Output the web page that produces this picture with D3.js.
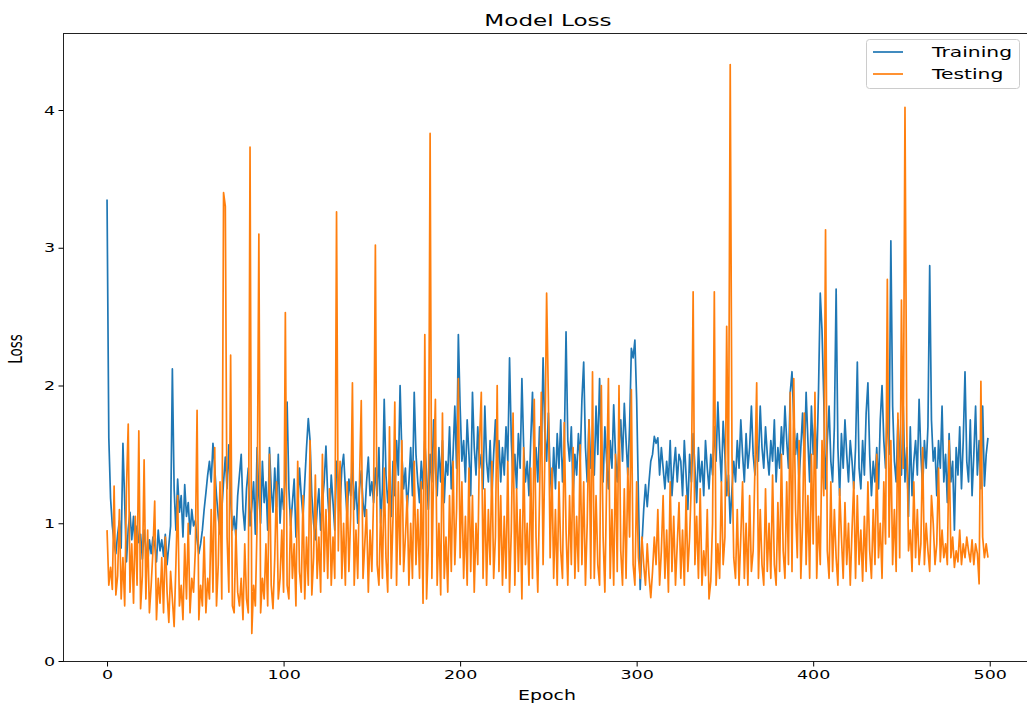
<!DOCTYPE html>
<html>
<head>
<meta charset="utf-8">
<script src="https://cdn.jsdelivr.net/npm/d3@7"></script>
<style>
  body { margin: 0; background: #fff; }
  svg { display: block; font-family: "DejaVu Sans", sans-serif; }
</style>
</head>
<body>
<script>
// valores (una entrada por época)
const training = [
  3.35,1.62,1.18,0.98,0.86,0.78,0.92,1.02,0.82,1.58,1.15,0.72,0.96,1.08,0.88,1.05,0.8,0.98,0.86,0.92,0.74,0.95,0.82,0.7,0.88,
  0.78,0.9,0.85,0.72,0.95,0.8,0.88,0.76,0.92,0.7,0.84,0.98,2.12,1.25,0.95,1.32,1.08,1.2,0.9,1.28,1.05,1.15,0.92,1.1,0.98,
  1.02,0.88,0.78,0.85,0.95,1.1,1.22,1.35,1.45,1.3,1.58,1.4,1.2,1.05,0.92,1.1,1.3,1.48,1.25,1.57,1.18,0.95,1.05,0.9,1.2,
  1.35,1.5,1.1,0.95,1.25,1.4,0.98,1.12,1.3,0.92,1.55,1.2,1.0,1.45,1.15,1.3,0.95,1.55,1.25,1.08,1.4,1.12,1.5,1.0,1.25,
  1.1,1.35,1.88,1.25,0.98,1.15,1.32,0.9,1.1,1.4,1.2,1.05,1.3,1.55,1.76,1.6,1.2,1.0,0.88,1.1,1.25,0.95,1.15,1.3,1.56,
  1.2,1.0,1.35,1.15,0.95,1.45,1.3,1.12,1.4,1.5,1.25,1.05,1.32,1.2,1.45,1.1,1.3,1.0,1.25,1.38,1.15,1.05,1.3,1.48,1.2,
  1.3,1.15,1.4,1.2,1.55,1.0,1.25,1.9,1.35,1.15,1.3,1.05,1.45,1.2,1.6,1.35,2.0,1.5,1.25,1.4,1.1,1.3,1.55,1.2,1.95,
  1.5,1.3,1.15,1.45,1.25,1.6,1.35,1.1,1.5,1.3,1.75,1.4,1.2,1.55,1.3,1.6,1.15,1.45,1.35,1.7,1.25,1.5,1.85,1.4,2.37,
  1.85,1.45,1.6,1.3,1.75,1.5,1.2,1.95,1.55,1.35,1.7,1.4,1.5,1.25,1.85,1.45,1.3,1.6,1.2,1.5,1.75,1.4,1.6,1.3,1.55,
  1.35,1.7,1.45,2.2,1.6,1.3,1.5,1.25,1.65,1.4,2.05,1.55,1.3,1.45,1.2,1.6,1.95,1.4,1.55,1.3,1.7,1.5,2.2,1.65,1.45,
  1.8,1.35,1.2,1.55,1.25,1.65,1.4,1.75,1.3,1.55,2.39,1.6,1.45,1.7,1.2,1.5,1.35,1.65,1.45,1.9,2.17,1.55,1.3,1.75,1.4,
  1.6,1.35,1.85,1.5,2.05,1.55,1.3,1.7,1.45,1.25,1.6,1.4,1.86,1.5,1.3,1.55,1.75,1.45,1.87,1.6,1.35,1.7,2.27,2.2,2.33,
  1.9,1.2,0.52,0.85,1.1,1.28,1.12,1.3,1.45,1.5,1.63,1.58,1.62,1.35,1.55,1.4,1.25,1.45,1.3,1.6,1.2,1.4,1.55,1.3,1.5,
  1.45,1.2,1.6,1.35,1.1,1.5,1.3,1.65,1.4,1.15,1.55,1.3,1.45,1.2,1.6,1.4,1.25,1.5,1.35,1.7,1.45,1.88,1.55,1.3,1.74,
  1.5,1.2,1.35,1.0,1.25,1.45,1.3,1.6,1.4,1.75,1.5,1.3,1.65,1.4,1.55,1.85,1.5,1.35,1.6,1.45,1.85,1.55,1.4,1.7,1.5,
  1.35,1.6,1.45,1.75,1.3,1.55,1.4,1.7,1.5,1.85,1.6,1.4,1.95,2.1,1.75,1.5,1.65,1.3,1.55,1.8,1.45,1.95,1.6,1.3,1.85,
  1.5,1.75,1.4,1.95,2.67,2.4,1.9,1.25,1.6,1.85,1.45,1.3,1.7,2.7,1.55,1.2,1.65,1.4,1.75,1.5,1.3,1.6,1.45,1.25,1.55,
  2.17,1.4,1.25,1.6,1.35,1.8,2.02,1.5,1.2,1.45,1.3,1.55,1.25,1.75,2.0,1.6,1.4,1.85,1.5,3.05,1.85,1.45,1.3,1.75,1.5,
  1.35,1.85,1.3,1.55,1.05,1.7,1.2,1.45,1.6,1.35,1.9,1.5,1.25,1.6,1.4,1.7,2.87,1.75,1.45,1.55,1.2,1.6,1.4,1.85,1.3,
  1.5,1.15,1.65,1.3,1.45,0.95,1.55,1.35,1.7,1.25,1.6,2.1,1.45,1.3,1.75,1.2,1.5,1.85,1.35,1.6,1.25,1.85,1.27,1.5,1.62
];

const testing = [
  0.95,0.55,0.68,0.52,1.27,0.48,0.62,1.1,0.45,0.75,0.4,1.25,1.72,0.5,0.85,0.42,1.05,0.55,1.67,0.38,0.62,1.46,0.45,0.95,0.35,
  0.55,0.8,1.16,0.3,0.6,0.42,0.75,0.35,0.9,0.5,0.28,0.65,0.45,0.25,0.7,1.2,0.4,0.55,0.3,0.85,0.45,1.0,0.35,0.6,0.5,
  0.8,1.82,0.3,0.55,0.4,0.9,0.35,0.6,0.45,1.1,0.5,1.55,0.4,0.7,1.3,0.45,3.4,3.3,0.9,0.5,2.22,0.4,0.35,0.95,0.5,
  0.4,0.6,0.3,0.85,0.45,0.35,3.73,0.2,0.55,0.4,1.0,3.1,0.35,0.6,0.45,0.85,0.4,1.5,0.55,0.38,0.75,1.3,0.45,0.6,0.95,
  0.5,2.53,0.55,0.45,1.1,0.6,0.85,0.4,1.45,0.65,0.5,1.2,0.45,0.9,0.55,1.6,0.48,0.75,1.35,0.6,0.9,0.5,1.5,0.65,1.1,
  0.6,1.25,0.55,0.9,0.6,3.26,0.8,1.45,0.6,1.0,0.55,1.3,0.65,1.05,2.02,0.55,0.95,0.6,1.3,1.89,0.6,0.85,1.1,0.5,0.95,
  0.65,1.2,3.02,0.7,0.55,1.1,0.6,1.4,0.75,0.5,1.7,0.6,1.05,1.88,0.55,1.3,0.7,1.6,0.65,0.9,1.2,0.55,1.0,0.6,1.45,
  0.7,1.1,0.6,1.3,0.42,2.37,0.45,0.85,3.83,0.6,1.4,1.9,0.55,1.0,0.48,1.8,0.6,0.9,0.5,1.2,0.65,1.45,0.7,1.1,2.05,
  0.75,1.3,0.6,1.05,0.55,1.4,0.65,1.2,0.5,1.0,0.7,1.6,1.95,0.6,1.25,0.55,1.1,0.7,1.45,0.6,0.9,2.0,0.65,1.2,0.55,
  1.05,0.6,1.45,0.5,0.95,1.8,0.55,1.25,0.65,1.1,0.45,1.55,0.7,1.0,0.55,1.4,0.6,1.9,0.9,0.5,1.2,1.95,0.7,1.5,2.67,
  1.9,0.75,1.4,0.6,1.1,0.55,1.3,0.8,0.6,1.73,0.95,0.55,1.2,0.7,1.55,0.6,1.05,0.65,1.57,0.7,1.3,0.55,1.0,1.75,0.6,
  2.1,0.6,1.2,0.7,0.55,2.0,0.9,0.5,1.3,2.05,0.6,1.1,0.55,1.5,0.65,2.0,0.8,0.55,1.25,0.6,1.4,0.9,1.97,0.7,0.55,
  1.3,0.75,0.6,0.9,0.7,0.55,0.85,0.62,0.46,0.65,0.9,0.7,1.1,0.55,0.8,1.2,0.6,0.95,0.5,1.3,0.65,1.05,0.55,0.85,1.15,
  0.6,0.95,0.55,1.2,0.65,0.9,1.3,2.68,0.7,1.05,0.6,1.25,0.55,0.8,0.62,1.1,0.45,0.58,1.0,2.68,0.55,0.85,0.6,1.3,0.7,
  0.9,2.43,1.2,4.33,1.5,0.75,0.6,1.1,0.55,0.9,1.3,0.6,1.0,0.55,1.2,0.65,0.8,1.4,2.02,0.6,1.1,0.7,0.55,1.25,0.65,
  1.0,0.6,1.35,0.7,0.55,1.15,0.65,1.5,0.8,0.6,1.3,0.7,1.95,0.65,2.05,1.1,0.75,1.6,0.6,1.0,1.8,0.7,1.2,0.6,1.5,
  0.85,1.95,0.6,1.05,0.7,1.6,1.2,3.13,0.8,0.6,1.3,0.65,1.1,0.75,0.55,1.25,0.9,0.6,1.15,0.7,1.0,0.55,0.95,1.3,0.6,
  1.2,0.7,0.95,0.58,1.05,0.65,1.3,0.8,0.6,1.1,0.7,1.5,0.75,1.0,0.6,1.3,0.85,2.77,0.9,1.6,0.7,1.1,0.65,1.8,0.75,
  2.62,1.4,4.02,1.7,0.8,0.95,0.65,1.3,0.75,1.1,0.7,0.85,1.55,0.7,1.0,0.8,0.65,1.2,1.0,0.7,0.85,1.4,0.72,0.95,0.75,
  0.85,0.7,1.6,0.75,0.9,0.68,0.8,0.72,0.95,0.7,0.85,0.75,0.9,0.8,0.72,0.88,0.7,0.85,0.78,0.56,2.03,0.9,0.75,0.85,0.75
];

const xTicks = [0, 100, 200, 300, 400, 500];
const yTicks = [0, 1, 2, 3, 4];
const seriesNames = ["Training", "Testing"];
const colors = ["#1f77b4", "#ff7f0e"];

const W = 1027, H = 709;
const margin = { left: 63, top: 33, right: 1032, bottom: 661 };
const sx = 1.4; // el original está estirado en horizontal

const x = d3.scaleLinear().domain([-24.95, 523.95]).range([margin.left, margin.right]);
const y = d3.scaleLinear().domain([0, 4.559]).range([margin.bottom, margin.top]);

const svg = d3.select("body").append("svg")
    .attr("width", W)
    .attr("height", H);

// líneas
const line = d3.line()
    .x((d, i) => x(i))
    .y(d => y(d));

[training, testing].forEach((s, k) => {
  svg.append("path")
      .datum(s)
      .attr("fill", "none")
      .attr("stroke", colors[k])
      .attr("stroke-width", 1.7)
      .attr("stroke-linejoin", "round")
      .attr("d", line);
});

// marco
svg.append("rect")
    .attr("x", margin.left + 0.5)
    .attr("y", margin.top + 0.5)
    .attr("width", margin.right - margin.left)
    .attr("height", margin.bottom - margin.top)
    .attr("fill", "none")
    .attr("stroke", "#222")
    .attr("stroke-width", 1);

// ejes
svg.append("g")
    .attr("transform", `translate(0,${margin.bottom + 0.5})`)
    .call(d3.axisBottom(x).tickValues(xTicks).tickSize(5).tickPadding(4))
    .call(g => g.select(".domain").remove())
    .call(g => g.selectAll("text")
        .attr("font-size", 12.5).attr("fill", "#000").attr("font-family", "DejaVu Sans")
        .attr("transform", `scale(${sx},1)`));

svg.append("g")
    .attr("transform", `translate(${margin.left + 0.5},0)`)
    .call(d3.axisLeft(y).tickValues(yTicks).tickFormat(d3.format("d")).tickSize(5).tickPadding(5))
    .call(g => g.select(".domain").remove())
    .call(g => g.selectAll("text")
        .attr("x", -6)
        .attr("font-size", 12.5).attr("fill", "#000").attr("font-family", "DejaVu Sans")
        .attr("transform", `scale(${sx},1)`));

// títulos
function label(txt, px, py, size, rot) {
  svg.append("text")
      .attr("transform", rot
        ? `translate(${px},${py}) scale(${sx},1) rotate(-90)`
        : `translate(${px},${py}) scale(${sx},1)`)
      .attr("text-anchor", "middle")
      .attr("font-size", size)
      .text(txt);
}
label("Model Loss", 548, 26, 16.5);
label("Epoch", 547, 700, 13.5);
label("Loss", 22, 349, 13.5, true);

// leyenda
const lg = svg.append("g");
lg.append("rect")
    .attr("x", 866.5).attr("y", 39.5)
    .attr("width", 153).attr("height", 49)
    .attr("rx", 3)
    .attr("fill", "#fff")
    .attr("fill-opacity", 0.8)
    .attr("stroke", "#ccc");

seriesNames.forEach((name, k) => {
  const yy = 52 + k * 22;
  lg.append("line")
      .attr("x1", 873).attr("x2", 903)
      .attr("y1", yy).attr("y2", yy)
      .attr("stroke", colors[k])
      .attr("stroke-width", 1.7);
  lg.append("text")
      .attr("transform", `translate(932,${yy + 5}) scale(${sx},1)`)
      .attr("font-size", 14.5)
      .text(name);
});
</script>
</body>
</html>
